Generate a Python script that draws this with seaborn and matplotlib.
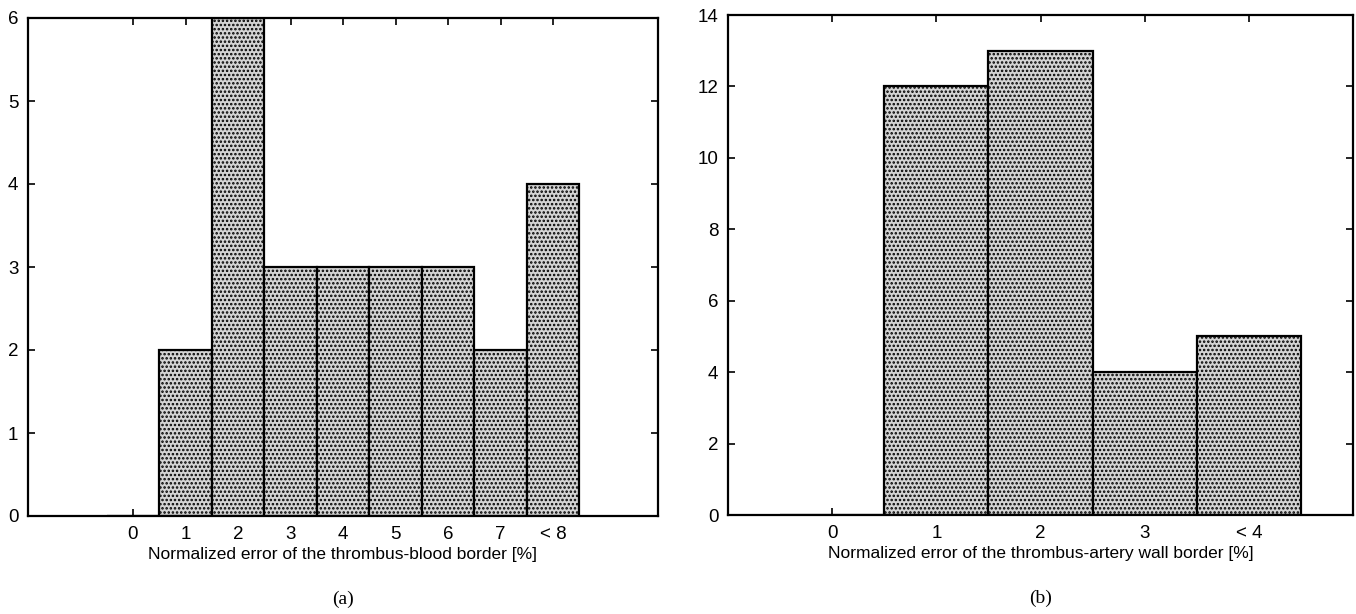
import matplotlib
matplotlib.use("Agg")
import matplotlib.pyplot as plt
import seaborn as sns
import pandas as pd

# Data
cats_a = ["0", "1", "2", "3", "4", "5", "6", "7", "< 8"]
vals_a = [0, 2, 6, 3, 3, 3, 3, 2, 4]
cats_b = ["0", "1", "2", "3", "< 4"]
vals_b = [0, 12, 13, 4, 5]
xlabel_a = "Normalized error of the thrombus-blood border [%]"
xlabel_b = "Normalized error of the thrombus-artery wall border [%]"

sns.set_theme(style="ticks")
plt.rcParams["font.family"] = ["Liberation Sans", "DejaVu Sans"]
plt.rcParams["hatch.color"] = "#303030"
plt.rcParams["hatch.linewidth"] = 1.2

fig = plt.figure(figsize=(13.56, 6.14), dpi=100)
ax1 = fig.add_axes([28/1356, 1-516/614, 630/1356, 498/614])
ax2 = fig.add_axes([728/1356, 1-515/614, 625/1356, 500/614])

def draw(ax, cats, vals, xlim, ylim, yticks, xlabel, caption):
    df = pd.DataFrame({"cat": cats, "val": vals})
    sns.barplot(data=df, x="cat", y="val", order=cats, ax=ax, width=1.0,
                color="#d4d4d4", saturation=1, edgecolor="black", linewidth=1.6)
    for p in ax.patches:
        p.set_hatch("....")
    ax.set_xlim(*xlim)
    ax.set_ylim(*ylim)
    ax.set_yticks(yticks)
    ax.set_xticks(range(len(cats)))
    ax.set_xticklabels(cats)
    ax.set_ylabel("")
    ax.set_xlabel(xlabel, fontsize=12.5, labelpad=3, color="black")
    ax.tick_params(direction="in", top=True, right=True, length=5, width=1.2,
                   labelsize=13.5, colors="black", pad=7)
    for s in ax.spines.values():
        s.set_visible(True)
        s.set_linewidth(1.6)
        s.set_color("black")
    ax.text(0.5, -0.15, caption, transform=ax.transAxes, ha="center", va="top",
            fontsize=14, color="black", family=["Liberation Serif", "DejaVu Serif"])

draw(ax1, cats_a, vals_a, (-2, 10), (0, 6), range(0, 7), xlabel_a, "(a)")
draw(ax2, cats_b, vals_b, (-1, 5), (0, 14), range(0, 15, 2), xlabel_b, "(b)")

fig.savefig("out.png", dpi=100)
